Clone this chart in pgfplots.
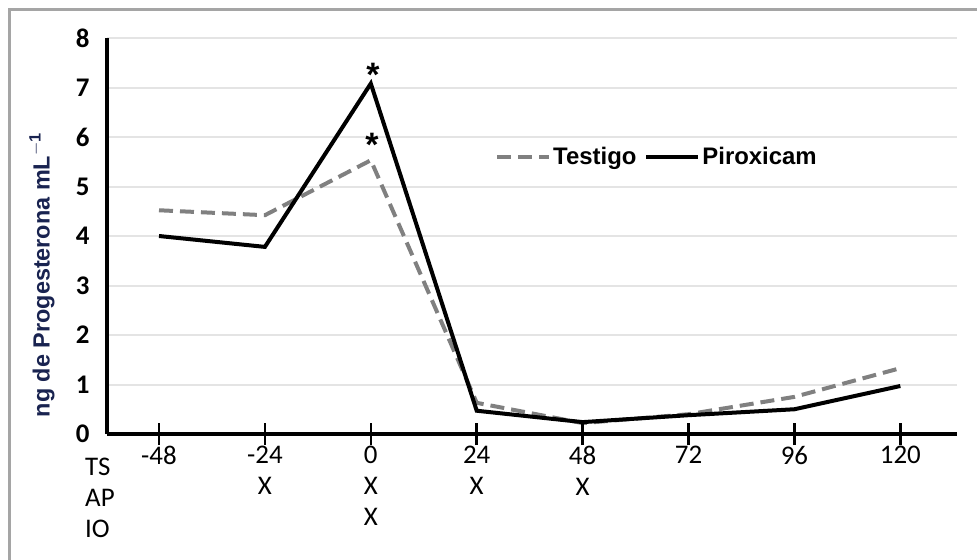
\documentclass[border=0pt]{standalone}
\usepackage{fontspec}
\usepackage{pgfplots}
\pgfplotsset{compat=1.18}
\setmainfont{Liberation Sans}
\newfontfamily\carlito{Carlito}
\definecolor{gridgray}{RGB}{228,228,228}
\definecolor{testgray}{RGB}{128,128,128}
\definecolor{framegray}{RGB}{165,165,165}
\definecolor{labelnavy}{RGB}{25,35,80}
\begin{document}
\begin{tikzpicture}
\path[use as bounding box] (0bp,0bp) rectangle (977bp,560bp);
\draw[framegray, line width=3bp] (9.5bp,0bp) -- (9.5bp,550.5bp) -- (977bp,550.5bp);
\begin{axis}[
  at={(107bp,126bp)}, anchor=south west, scale only axis,
  width=850bp, height=396bp,
  xmin=-0.491, xmax=7.535, ymin=0, ymax=8,
  axis x line*=bottom, axis y line*=left,
  axis line style={line width=3.5bp, black},
  xtick={0,1,2,3,4,5,6,7},
  xticklabels={{-48},{-24\\X},{0\\X\\X},{24\\X},{48\\X},{72},{96},{120}},
  xticklabel style={font=\carlito\fontsize{27}{31}\selectfont, align=center, yshift=-9bp},
  ytick={0,1,2,3,4,5,6,7,8},
  yticklabels={0,1,2,3,4,5,6,7,8},
  yticklabel style={font=\carlito\bfseries\fontsize{27}{30}\selectfont, xshift=-14bp},
  ymajorgrids, grid style={gridgray, line width=2bp},
  tick style={draw=none},
  legend columns=2,
  legend style={at={(rel axis cs:0.4565,0.6995)}, anchor=west, draw=none, fill=none,
    inner sep=0pt, font=\bfseries\fontsize{24}{26}\selectfont,
    /tikz/every even column/.append style={column sep=6bp}},
  legend image code/.code={\draw[#1] (0bp,0bp) -- (52bp,0bp);},
  clip=false,
]
\addplot[testgray, line width=4bp, dash pattern=on 14bp off 7bp] coordinates {
  (0,4.52) (1,4.42) (2,5.53) (3,0.63) (4,0.22) (5,0.40) (6,0.75) (7,1.33)};
\addlegendentry{Testigo}
\addplot[black, line width=4bp] coordinates {
  (0,4.00) (1,3.78) (2,7.08) (3,0.47) (4,0.24) (5,0.38) (6,0.50) (7,0.97)};
\addlegendentry{Piroxicam}
\pgfplotsinvokeforeach{0,1,2,3,4,5,6,7}{
  \draw[black, line width=2.5bp] ([yshift=-11bp]axis cs:#1,0) -- ([yshift=11bp]axis cs:#1,0);
}
\node[font=\bfseries\fontsize{34}{34}\selectfont] at (axis cs:2.02,7.25) {*};
\node[font=\bfseries\fontsize{34}{34}\selectfont] at (axis cs:2.01,5.84) {*};
\end{axis}
\node[anchor=north west, align=left, inner sep=0pt, font=\carlito\fontsize{27}{31}\selectfont] at (85bp,102bp) {TS\\AP\\IO};
\node[rotate=90, font=\bfseries\fontsize{23.5}{26}\selectfont, text=labelnavy] at (42bp,285bp) {ng de Progesterona mL$^{\mathbf{-1}}$};
\end{tikzpicture}
\end{document}
